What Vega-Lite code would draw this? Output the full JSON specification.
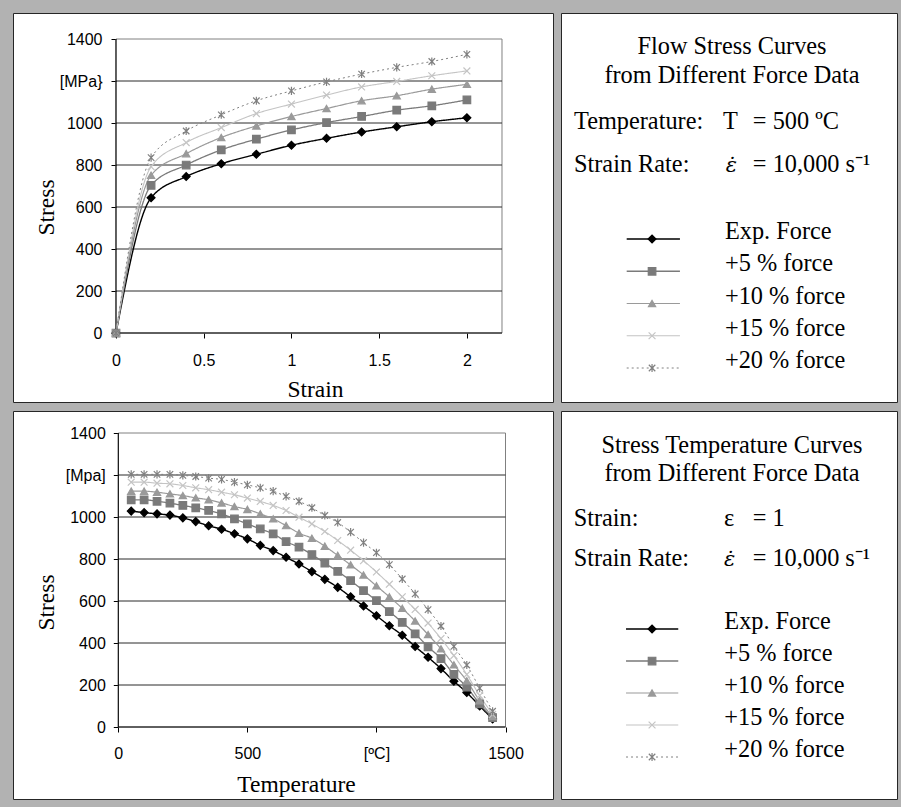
{
  "$schema": "https://vega.github.io/schema/vega-lite/v6.json",
  "background": "#b2b2b2",
  "padding": {"left": 12, "top": 12, "right": 4, "bottom": 8},
  "config": {"view": {"stroke": null}},
  "datasets": {
    "strain": [
      {"series":"Exp. Force","strain":0,"stress":0},{"series":"Exp. Force","strain":0.2,"stress":644},{"series":"Exp. Force","strain":0.4,"stress":745},{"series":"Exp. Force","strain":0.6,"stress":806},{"series":"Exp. Force","strain":0.8,"stress":851},{"series":"Exp. Force","strain":1.0,"stress":894},{"series":"Exp. Force","strain":1.2,"stress":927},{"series":"Exp. Force","strain":1.4,"stress":957},{"series":"Exp. Force","strain":1.6,"stress":982},{"series":"Exp. Force","strain":1.8,"stress":1006},{"series":"Exp. Force","strain":2.0,"stress":1025},
      {"series":"+5 % force","strain":0,"stress":0},{"series":"+5 % force","strain":0.2,"stress":703},{"series":"+5 % force","strain":0.4,"stress":800},{"series":"+5 % force","strain":0.6,"stress":872},{"series":"+5 % force","strain":0.8,"stress":923},{"series":"+5 % force","strain":1.0,"stress":967},{"series":"+5 % force","strain":1.2,"stress":1002},{"series":"+5 % force","strain":1.4,"stress":1031},{"series":"+5 % force","strain":1.6,"stress":1061},{"series":"+5 % force","strain":1.8,"stress":1082},{"series":"+5 % force","strain":2.0,"stress":1110},
      {"series":"+10 % force","strain":0,"stress":0},{"series":"+10 % force","strain":0.2,"stress":751},{"series":"+10 % force","strain":0.4,"stress":854},{"series":"+10 % force","strain":0.6,"stress":931},{"series":"+10 % force","strain":0.8,"stress":986},{"series":"+10 % force","strain":1.0,"stress":1031},{"series":"+10 % force","strain":1.2,"stress":1069},{"series":"+10 % force","strain":1.4,"stress":1106},{"series":"+10 % force","strain":1.6,"stress":1130},{"series":"+10 % force","strain":1.8,"stress":1161},{"series":"+10 % force","strain":2.0,"stress":1184},
      {"series":"+15 % force","strain":0,"stress":0},{"series":"+15 % force","strain":0.2,"stress":792},{"series":"+15 % force","strain":0.4,"stress":907},{"series":"+15 % force","strain":0.6,"stress":978},{"series":"+15 % force","strain":0.8,"stress":1045},{"series":"+15 % force","strain":1.0,"stress":1090},{"series":"+15 % force","strain":1.2,"stress":1133},{"series":"+15 % force","strain":1.4,"stress":1172},{"series":"+15 % force","strain":1.6,"stress":1198},{"series":"+15 % force","strain":1.8,"stress":1225},{"series":"+15 % force","strain":2.0,"stress":1248},
      {"series":"+20 % force","strain":0,"stress":0},{"series":"+20 % force","strain":0.2,"stress":835},{"series":"+20 % force","strain":0.4,"stress":962},{"series":"+20 % force","strain":0.6,"stress":1039},{"series":"+20 % force","strain":0.8,"stress":1106},{"series":"+20 % force","strain":1.0,"stress":1153},{"series":"+20 % force","strain":1.2,"stress":1196},{"series":"+20 % force","strain":1.4,"stress":1233},{"series":"+20 % force","strain":1.6,"stress":1265},{"series":"+20 % force","strain":1.8,"stress":1293},{"series":"+20 % force","strain":2.0,"stress":1327}
    ],
    "temp": [
      {"series":"Exp. Force","temperature":50,"stress":1028},{"series":"Exp. Force","temperature":100,"stress":1021},{"series":"Exp. Force","temperature":150,"stress":1015},{"series":"Exp. Force","temperature":200,"stress":1009},{"series":"Exp. Force","temperature":250,"stress":996},{"series":"Exp. Force","temperature":300,"stress":978},{"series":"Exp. Force","temperature":350,"stress":958},{"series":"Exp. Force","temperature":400,"stress":942},{"series":"Exp. Force","temperature":450,"stress":920},{"series":"Exp. Force","temperature":500,"stress":896},{"series":"Exp. Force","temperature":550,"stress":865},{"series":"Exp. Force","temperature":600,"stress":840},{"series":"Exp. Force","temperature":650,"stress":808},{"series":"Exp. Force","temperature":700,"stress":776},{"series":"Exp. Force","temperature":750,"stress":740},{"series":"Exp. Force","temperature":800,"stress":703},{"series":"Exp. Force","temperature":850,"stress":665},{"series":"Exp. Force","temperature":900,"stress":620},{"series":"Exp. Force","temperature":950,"stress":576},{"series":"Exp. Force","temperature":1000,"stress":530},{"series":"Exp. Force","temperature":1050,"stress":482},{"series":"Exp. Force","temperature":1100,"stress":437},{"series":"Exp. Force","temperature":1150,"stress":383},{"series":"Exp. Force","temperature":1200,"stress":332},{"series":"Exp. Force","temperature":1250,"stress":278},{"series":"Exp. Force","temperature":1300,"stress":218},{"series":"Exp. Force","temperature":1350,"stress":164},{"series":"Exp. Force","temperature":1400,"stress":100},{"series":"Exp. Force","temperature":1450,"stress":38},
      {"series":"+5 % force","temperature":50,"stress":1082},{"series":"+5 % force","temperature":100,"stress":1082},{"series":"+5 % force","temperature":150,"stress":1075},{"series":"+5 % force","temperature":200,"stress":1066},{"series":"+5 % force","temperature":250,"stress":1055},{"series":"+5 % force","temperature":300,"stress":1044},{"series":"+5 % force","temperature":350,"stress":1031},{"series":"+5 % force","temperature":400,"stress":1015},{"series":"+5 % force","temperature":450,"stress":991},{"series":"+5 % force","temperature":500,"stress":967},{"series":"+5 % force","temperature":550,"stress":943},{"series":"+5 % force","temperature":600,"stress":920},{"series":"+5 % force","temperature":650,"stress":883},{"series":"+5 % force","temperature":700,"stress":856},{"series":"+5 % force","temperature":750,"stress":821},{"series":"+5 % force","temperature":800,"stress":780},{"series":"+5 % force","temperature":850,"stress":741},{"series":"+5 % force","temperature":900,"stress":697},{"series":"+5 % force","temperature":950,"stress":649},{"series":"+5 % force","temperature":1000,"stress":602},{"series":"+5 % force","temperature":1050,"stress":550},{"series":"+5 % force","temperature":1100,"stress":498},{"series":"+5 % force","temperature":1150,"stress":444},{"series":"+5 % force","temperature":1200,"stress":382},{"series":"+5 % force","temperature":1250,"stress":326},{"series":"+5 % force","temperature":1300,"stress":251},{"series":"+5 % force","temperature":1350,"stress":190},{"series":"+5 % force","temperature":1400,"stress":110},{"series":"+5 % force","temperature":1450,"stress":45},
      {"series":"+10 % force","temperature":50,"stress":1123},{"series":"+10 % force","temperature":100,"stress":1123},{"series":"+10 % force","temperature":150,"stress":1118},{"series":"+10 % force","temperature":200,"stress":1110},{"series":"+10 % force","temperature":250,"stress":1102},{"series":"+10 % force","temperature":300,"stress":1091},{"series":"+10 % force","temperature":350,"stress":1082},{"series":"+10 % force","temperature":400,"stress":1067},{"series":"+10 % force","temperature":450,"stress":1050},{"series":"+10 % force","temperature":500,"stress":1036},{"series":"+10 % force","temperature":550,"stress":1015},{"series":"+10 % force","temperature":600,"stress":991},{"series":"+10 % force","temperature":650,"stress":959},{"series":"+10 % force","temperature":700,"stress":923},{"series":"+10 % force","temperature":750,"stress":899},{"series":"+10 % force","temperature":800,"stress":861},{"series":"+10 % force","temperature":850,"stress":817},{"series":"+10 % force","temperature":900,"stress":772},{"series":"+10 % force","temperature":950,"stress":724},{"series":"+10 % force","temperature":1000,"stress":672},{"series":"+10 % force","temperature":1050,"stress":620},{"series":"+10 % force","temperature":1100,"stress":565},{"series":"+10 % force","temperature":1150,"stress":505},{"series":"+10 % force","temperature":1200,"stress":440},{"series":"+10 % force","temperature":1250,"stress":372},{"series":"+10 % force","temperature":1300,"stress":296},{"series":"+10 % force","temperature":1350,"stress":220},{"series":"+10 % force","temperature":1400,"stress":125},{"series":"+10 % force","temperature":1450,"stress":50},
      {"series":"+15 % force","temperature":50,"stress":1166},{"series":"+15 % force","temperature":100,"stress":1166},{"series":"+15 % force","temperature":150,"stress":1161},{"series":"+15 % force","temperature":200,"stress":1158},{"series":"+15 % force","temperature":250,"stress":1150},{"series":"+15 % force","temperature":300,"stress":1139},{"series":"+15 % force","temperature":350,"stress":1130},{"series":"+15 % force","temperature":400,"stress":1118},{"series":"+15 % force","temperature":450,"stress":1106},{"series":"+15 % force","temperature":500,"stress":1090},{"series":"+15 % force","temperature":550,"stress":1074},{"series":"+15 % force","temperature":600,"stress":1055},{"series":"+15 % force","temperature":650,"stress":1031},{"series":"+15 % force","temperature":700,"stress":999},{"series":"+15 % force","temperature":750,"stress":967},{"series":"+15 % force","temperature":800,"stress":931},{"series":"+15 % force","temperature":850,"stress":888},{"series":"+15 % force","temperature":900,"stress":842},{"series":"+15 % force","temperature":950,"stress":792},{"series":"+15 % force","temperature":1000,"stress":738},{"series":"+15 % force","temperature":1050,"stress":680},{"series":"+15 % force","temperature":1100,"stress":620},{"series":"+15 % force","temperature":1150,"stress":560},{"series":"+15 % force","temperature":1200,"stress":495},{"series":"+15 % force","temperature":1250,"stress":421},{"series":"+15 % force","temperature":1300,"stress":340},{"series":"+15 % force","temperature":1350,"stress":250},{"series":"+15 % force","temperature":1400,"stress":150},{"series":"+15 % force","temperature":1450,"stress":60},
      {"series":"+20 % force","temperature":50,"stress":1203},{"series":"+20 % force","temperature":100,"stress":1203},{"series":"+20 % force","temperature":150,"stress":1203},{"series":"+20 % force","temperature":200,"stress":1203},{"series":"+20 % force","temperature":250,"stress":1198},{"series":"+20 % force","temperature":300,"stress":1193},{"series":"+20 % force","temperature":350,"stress":1185},{"series":"+20 % force","temperature":400,"stress":1179},{"series":"+20 % force","temperature":450,"stress":1166},{"series":"+20 % force","temperature":500,"stress":1153},{"series":"+20 % force","temperature":550,"stress":1139},{"series":"+20 % force","temperature":600,"stress":1123},{"series":"+20 % force","temperature":650,"stress":1098},{"series":"+20 % force","temperature":700,"stress":1075},{"series":"+20 % force","temperature":750,"stress":1044},{"series":"+20 % force","temperature":800,"stress":1007},{"series":"+20 % force","temperature":850,"stress":974},{"series":"+20 % force","temperature":900,"stress":928},{"series":"+20 % force","temperature":950,"stress":878},{"series":"+20 % force","temperature":1000,"stress":830},{"series":"+20 % force","temperature":1050,"stress":773},{"series":"+20 % force","temperature":1100,"stress":705},{"series":"+20 % force","temperature":1150,"stress":634},{"series":"+20 % force","temperature":1200,"stress":559},{"series":"+20 % force","temperature":1250,"stress":481},{"series":"+20 % force","temperature":1300,"stress":384},{"series":"+20 % force","temperature":1350,"stress":295},{"series":"+20 % force","temperature":1400,"stress":185},{"series":"+20 % force","temperature":1450,"stress":75}
    ],
    "series": [{"series":"Exp. Force"},{"series":"+5 % force"},{"series":"+10 % force"},{"series":"+15 % force"},{"series":"+20 % force"}],
    "grid": [{"stress":200},{"stress":400},{"stress":600},{"stress":800},{"stress":1000},{"stress":1200}]
  },
  "vconcat": [
    {
      "spacing": 6,
      "hconcat": [
        {
          "width": 540, "height": 389,
          "view": {"fill": "white", "stroke": "#262626", "strokeWidth": 1},
          "layer": [
            {"data": {"values": [{}]}, "mark": {"type": "rect", "filled": false, "stroke": "#808080", "strokeWidth": 1},
             "encoding": {
               "x": {"datum": 0, "type": "quantitative", "scale": {"domain": [-0.58706, 2.49074], "nice": false, "zero": false},
                     "axis": {"values": [0, 0.5, 1, 1.5, 2], "labelExpr": "'' + datum.value", "offset": -69, "domain": false, "title": "Strain", "titleFont": "Liberation Serif", "titleFontSize": 23.5, "titleFontWeight": "normal", "titleColor": "#000", "titleX": 302, "titleY": 63, "titleBaseline": "alphabetic", "titleAlign": "center", "labelFont": "Liberation Sans", "labelFontSize": 16, "labelColor": "#000", "labelPadding": 14, "tickSize": 5, "tickColor": "#000", "grid": false, "labelFlush": false, "labelOverlap": false}},
               "x2": {"datum": 2.2},
               "y": {"datum": 0, "type": "quantitative", "scale": {"domain": [-328.571, 1523.81], "nice": false, "zero": false},
                     "axis": {"values": [0, 200, 400, 600, 800, 1000, 1200, 1400], "labelExpr": "datum.value == 1200 ? '[MPa}' : '' + datum.value", "offset": -103, "domain": false, "title": "Stress", "titleFont": "Liberation Serif", "titleFontSize": 23.5, "titleFontWeight": "normal", "titleColor": "#000", "titleAngle": 270, "titleX": -62.5, "titleY": 194, "titleBaseline": "alphabetic", "titleAlign": "center", "labelFont": "Liberation Sans", "labelFontSize": 16, "labelColor": "#000", "labelPadding": 9, "tickSize": 5, "tickColor": "#000", "grid": false, "labelOverlap": false}},
               "y2": {"datum": 1400}}},
            {"data": {"name": "grid"}, "mark": {"type": "rule", "stroke": "#2b2b2b", "strokeWidth": 1},
             "encoding": {"x": {"datum": 0, "type": "quantitative"}, "x2": {"datum": 2.2},
                          "y": {"field": "stress", "type": "quantitative"}}},
            {"data": {"values": [{}]}, "mark": {"type": "rule", "stroke": "#000", "strokeWidth": 1},
             "encoding": {"x": {"datum": 0, "type": "quantitative"}, "x2": {"datum": 2.2},
                          "y": {"datum": 0, "type": "quantitative"}}},
            {"data": {"values": [{}]}, "mark": {"type": "rule", "stroke": "#000", "strokeWidth": 1},
             "encoding": {"x": {"datum": 0, "type": "quantitative"},
                          "y": {"datum": 0, "type": "quantitative"}, "y2": {"datum": 1400}}},
            {"data": {"name": "strain"}, "mark": {"type": "line", "interpolate": "monotone"},
             "encoding": {
               "x": {"field": "strain", "type": "quantitative"},
               "y": {"field": "stress", "type": "quantitative"},
               "color": {"field": "series", "type": "nominal", "scale": {"domain": ["Exp. Force", "+5 % force", "+10 % force", "+15 % force", "+20 % force"], "range": ["#000000", "#7a7a7a", "#9a9a9a", "#c4c4c4", "#808080"]}, "legend": null},
               "strokeDash": {"field": "series", "type": "nominal", "scale": {"domain": ["Exp. Force", "+5 % force", "+10 % force", "+15 % force", "+20 % force"], "range": [[1, 0], [1, 0], [1, 0], [1, 0], [2, 3]]}, "legend": null},
               "strokeWidth": {"field": "series", "type": "nominal", "scale": {"domain": ["Exp. Force", "+5 % force", "+10 % force", "+15 % force", "+20 % force"], "range": [1.4, 1, 1, 1, 1.3]}, "legend": null}
             }},
            {"data": {"name": "strain"}, "mark": {"type": "point", "filled": true, "strokeWidth": 1.2, "opacity": 1},
             "encoding": {
               "x": {"field": "strain", "type": "quantitative"},
               "y": {"field": "stress", "type": "quantitative"},
               "fill": {"field": "series", "type": "nominal", "scale": {"domain": ["Exp. Force", "+5 % force", "+10 % force", "+15 % force", "+20 % force"], "range": ["#000000", "#7a7a7a", "#9a9a9a", "#c4c4c4", "#808080"]}, "legend": null},
               "stroke": {"field": "series", "type": "nominal", "scale": {"domain": ["Exp. Force", "+5 % force", "+10 % force", "+15 % force", "+20 % force"], "range": ["#000000", "#7a7a7a", "#9a9a9a", "#c4c4c4", "#808080"]}, "legend": null},
               "shape": {"field": "series", "type": "nominal", "scale": {"domain": ["Exp. Force", "+5 % force", "+10 % force", "+15 % force", "+20 % force"], "range": ["diamond", "square", "triangle-up", "M-1,-1L1,1M-1,1L1,-1", "M-1,-1L1,1M-1,1L1,-1M0,-1.25L0,1.25"]}, "legend": null},
               "size": {"field": "series", "type": "nominal", "scale": {"domain": ["Exp. Force", "+5 % force", "+10 % force", "+15 % force", "+20 % force"], "range": [62, 42, 62, 62, 70]}, "legend": null}
             }}
          ]
        },
        {
          "width": 336, "height": 389,
          "view": {"fill": "white", "stroke": "#262626", "strokeWidth": 1},
          "resolve": {"scale": {"y": "independent"}},
          "layer": [
            {"data": {"values": [{"heading": "Flow Stress Curves"}, {"heading": "from Different Force Data"}]},
             "mark": {"type": "text", "font": "Liberation Serif", "fontSize": 24.3, "align": "center", "baseline": "alphabetic", "color": "#000"},
             "encoding": {"x": {"datum": 0.509, "type": "quantitative", "scale": {"domain": [0, 1], "nice": false, "zero": false}, "axis": null},
                          "y": {"field": "heading", "type": "nominal", "scale": {"type": "point", "domain": ["Flow Stress Curves", "from Different Force Data"], "range": [41.3, 69.7], "padding": 0}, "axis": null},
                          "text": {"field": "heading"}}},
            {"data": {"values": [{"label": "Temperature:", "symbol": "T", "value": "= 500 ºC"}, {"label": "Strain Rate:", "symbol": "ε̇", "value": "= 10,000 s⁻¹"}]},
             "layer": [
               {"mark": {"type": "text", "font": "Liberation Serif", "fontSize": 24.3, "align": "left", "baseline": "alphabetic", "color": "#000"},
                "encoding": {"x": {"datum": 0.0387, "type": "quantitative", "scale": {"domain": [0, 1], "nice": false, "zero": false}, "axis": null},
                             "y": {"field": "label", "type": "nominal", "scale": {"type": "point", "domain": ["Temperature:", "Strain Rate:"], "range": [115.7, 158.7], "padding": 0}, "axis": null},
                             "text": {"field": "label"}}},
               {"transform": [{"filter": "datum.label == 'Temperature:'"}],
                "mark": {"type": "text", "font": "Liberation Serif", "fontSize": 24.3, "align": "left", "baseline": "alphabetic", "color": "#000"},
                "encoding": {"x": {"datum": 0.482, "type": "quantitative", "scale": {"domain": [0, 1], "nice": false, "zero": false}, "axis": null},
                             "y": {"field": "label", "type": "nominal", "scale": {"type": "point", "domain": ["Temperature:", "Strain Rate:"], "range": [115.7, 158.7], "padding": 0}, "axis": null},
                             "text": {"field": "symbol"}}},
               {"transform": [{"filter": "datum.label == 'Strain Rate:'"}],
                "mark": {"type": "text", "font": "DejaVu Serif", "fontSize": 21, "fontStyle": "italic", "align": "left", "baseline": "alphabetic", "color": "#000"},
                "encoding": {"x": {"datum": 0.49, "type": "quantitative", "scale": {"domain": [0, 1], "nice": false, "zero": false}, "axis": null},
                             "y": {"field": "label", "type": "nominal", "scale": {"type": "point", "domain": ["Temperature:", "Strain Rate:"], "range": [115.7, 158.7], "padding": 0}, "axis": null},
                             "text": {"field": "symbol"}}},
               {"mark": {"type": "text", "font": "Liberation Serif", "fontSize": 24.3, "align": "left", "baseline": "alphabetic", "color": "#000"},
                "encoding": {"x": {"datum": 0.571, "type": "quantitative", "scale": {"domain": [0, 1], "nice": false, "zero": false}, "axis": null},
                             "y": {"field": "label", "type": "nominal", "scale": {"type": "point", "domain": ["Temperature:", "Strain Rate:"], "range": [115.7, 158.7], "padding": 0}, "axis": null},
                             "text": {"field": "value"}}}
             ]},
            {"data": {"name": "series"},
             "layer": [
               {"mark": {"type": "rule"},
                "encoding": {"x": {"datum": 0.1955, "type": "quantitative", "scale": {"domain": [0, 1], "nice": false, "zero": false}, "axis": null}, "x2": {"datum": 0.354},
                             "y": {"field": "series", "type": "nominal", "scale": {"type": "point", "domain": ["Exp. Force", "+5 % force", "+10 % force", "+15 % force", "+20 % force"], "range": [226, 355], "padding": 0}, "axis": null},
                             "color": {"field": "series", "type": "nominal", "scale": {"domain": ["Exp. Force", "+5 % force", "+10 % force", "+15 % force", "+20 % force"], "range": ["#000000", "#7a7a7a", "#9a9a9a", "#c4c4c4", "#808080"]}, "legend": null},
                             "strokeDash": {"field": "series", "type": "nominal", "scale": {"domain": ["Exp. Force", "+5 % force", "+10 % force", "+15 % force", "+20 % force"], "range": [[1, 0], [1, 0], [1, 0], [1, 0], [2, 3]]}, "legend": null},
                             "strokeWidth": {"field": "series", "type": "nominal", "scale": {"domain": ["Exp. Force", "+5 % force", "+10 % force", "+15 % force", "+20 % force"], "range": [1.6, 1.2, 1.2, 1.2, 1.3]}, "legend": null}}},
               {"mark": {"type": "point", "filled": true, "strokeWidth": 1.2, "opacity": 1},
                "encoding": {"x": {"datum": 0.271, "type": "quantitative", "scale": {"domain": [0, 1], "nice": false, "zero": false}, "axis": null},
                             "y": {"field": "series", "type": "nominal", "scale": {"type": "point", "domain": ["Exp. Force", "+5 % force", "+10 % force", "+15 % force", "+20 % force"], "range": [226, 355], "padding": 0}, "axis": null},
                             "fill": {"field": "series", "type": "nominal", "scale": {"domain": ["Exp. Force", "+5 % force", "+10 % force", "+15 % force", "+20 % force"], "range": ["#000000", "#7a7a7a", "#9a9a9a", "#c4c4c4", "#808080"]}, "legend": null},
                             "stroke": {"field": "series", "type": "nominal", "scale": {"domain": ["Exp. Force", "+5 % force", "+10 % force", "+15 % force", "+20 % force"], "range": ["#000000", "#7a7a7a", "#9a9a9a", "#c4c4c4", "#808080"]}, "legend": null},
                             "shape": {"field": "series", "type": "nominal", "scale": {"domain": ["Exp. Force", "+5 % force", "+10 % force", "+15 % force", "+20 % force"], "range": ["diamond", "square", "triangle-up", "M-1,-1L1,1M-1,1L1,-1", "M-1,-1L1,1M-1,1L1,-1M0,-1.25L0,1.25"]}, "legend": null},
                             "size": {"field": "series", "type": "nominal", "scale": {"domain": ["Exp. Force", "+5 % force", "+10 % force", "+15 % force", "+20 % force"], "range": [52, 38, 55, 56, 64]}, "legend": null}}},
               {"mark": {"type": "text", "font": "Liberation Serif", "fontSize": 24.3, "align": "left", "baseline": "alphabetic", "color": "#000"},
                "encoding": {"x": {"datum": 0.488, "type": "quantitative", "scale": {"domain": [0, 1], "nice": false, "zero": false}, "axis": null},
                             "y": {"field": "series", "type": "nominal", "scale": {"type": "point", "domain": ["Exp. Force", "+5 % force", "+10 % force", "+15 % force", "+20 % force"], "range": [227.3, 365.7], "padding": 0}, "axis": null},
                             "text": {"field": "series"}}}
             ]}
          ]
        }
      ]
    },
    {
      "spacing": 6,
      "hconcat": [
        {
          "width": 540, "height": 388,
          "view": {"fill": "white", "stroke": "#262626", "strokeWidth": 1},
          "layer": [
            {"data": {"values": [{}]}, "mark": {"type": "rect", "filled": false, "stroke": "#808080", "strokeWidth": 1},
             "encoding": {
               "x": {"datum": 0, "type": "quantitative", "scale": {"domain": [-407.93, 1684.0], "nice": false, "zero": false},
                     "axis": {"values": [0, 500, 1000, 1500], "labelExpr": "datum.value == 1000 ? '[ºC]' : '' + datum.value", "offset": -72, "domain": false, "title": "Temperature", "titleFont": "Liberation Serif", "titleFontSize": 23.5, "titleFontWeight": "normal", "titleColor": "#000", "titleX": 283, "titleY": 64.7, "titleBaseline": "alphabetic", "titleAlign": "center", "labelFont": "Liberation Sans", "labelFontSize": 16, "labelColor": "#000", "labelPadding": 13, "tickSize": 5, "tickColor": "#000", "grid": false, "labelFlush": false, "labelOverlap": false}},
               "x2": {"datum": 1500},
               "y": {"datum": 0, "type": "quantitative", "scale": {"domain": [-342.857, 1504.762], "nice": false, "zero": false},
                     "axis": {"values": [0, 200, 400, 600, 800, 1000, 1200, 1400], "labelExpr": "datum.value == 1200 ? '[Mpa]' : '' + datum.value", "offset": -105.3, "domain": false, "title": "Stress", "titleFont": "Liberation Serif", "titleFontSize": 23.5, "titleFontWeight": "normal", "titleColor": "#000", "titleAngle": 270, "titleX": -64.8, "titleY": 191, "titleBaseline": "alphabetic", "titleAlign": "center", "labelFont": "Liberation Sans", "labelFontSize": 16, "labelColor": "#000", "labelPadding": 8, "tickSize": 5, "tickColor": "#000", "grid": false, "labelOverlap": false}},
               "y2": {"datum": 1400}}},
            {"data": {"name": "grid"}, "mark": {"type": "rule", "stroke": "#2b2b2b", "strokeWidth": 1},
             "encoding": {"x": {"datum": 0, "type": "quantitative"}, "x2": {"datum": 1500},
                          "y": {"field": "stress", "type": "quantitative"}}},
            {"data": {"values": [{}]}, "mark": {"type": "rule", "stroke": "#000", "strokeWidth": 1},
             "encoding": {"x": {"datum": 0, "type": "quantitative"}, "x2": {"datum": 1500},
                          "y": {"datum": 0, "type": "quantitative"}}},
            {"data": {"values": [{}]}, "mark": {"type": "rule", "stroke": "#000", "strokeWidth": 1},
             "encoding": {"x": {"datum": 0, "type": "quantitative"},
                          "y": {"datum": 0, "type": "quantitative"}, "y2": {"datum": 1400}}},
            {"data": {"name": "temp"}, "mark": {"type": "line", "interpolate": "monotone"},
             "encoding": {
               "x": {"field": "temperature", "type": "quantitative"},
               "y": {"field": "stress", "type": "quantitative"},
               "color": {"field": "series", "type": "nominal", "scale": {"domain": ["Exp. Force", "+5 % force", "+10 % force", "+15 % force", "+20 % force"], "range": ["#000000", "#7a7a7a", "#9a9a9a", "#c4c4c4", "#808080"]}, "legend": null},
               "strokeDash": {"field": "series", "type": "nominal", "scale": {"domain": ["Exp. Force", "+5 % force", "+10 % force", "+15 % force", "+20 % force"], "range": [[1, 0], [1, 0], [1, 0], [1, 0], [2, 3]]}, "legend": null},
               "strokeWidth": {"field": "series", "type": "nominal", "scale": {"domain": ["Exp. Force", "+5 % force", "+10 % force", "+15 % force", "+20 % force"], "range": [1.4, 1, 1, 1, 1.3]}, "legend": null}
             }},
            {"data": {"name": "temp"}, "mark": {"type": "point", "filled": true, "strokeWidth": 1.2, "opacity": 1},
             "encoding": {
               "x": {"field": "temperature", "type": "quantitative"},
               "y": {"field": "stress", "type": "quantitative"},
               "fill": {"field": "series", "type": "nominal", "scale": {"domain": ["Exp. Force", "+5 % force", "+10 % force", "+15 % force", "+20 % force"], "range": ["#000000", "#7a7a7a", "#9a9a9a", "#c4c4c4", "#808080"]}, "legend": null},
               "stroke": {"field": "series", "type": "nominal", "scale": {"domain": ["Exp. Force", "+5 % force", "+10 % force", "+15 % force", "+20 % force"], "range": ["#000000", "#7a7a7a", "#9a9a9a", "#c4c4c4", "#808080"]}, "legend": null},
               "shape": {"field": "series", "type": "nominal", "scale": {"domain": ["Exp. Force", "+5 % force", "+10 % force", "+15 % force", "+20 % force"], "range": ["diamond", "square", "triangle-up", "M-1,-1L1,1M-1,1L1,-1", "M-1,-1L1,1M-1,1L1,-1M0,-1.25L0,1.25"]}, "legend": null},
               "size": {"field": "series", "type": "nominal", "scale": {"domain": ["Exp. Force", "+5 % force", "+10 % force", "+15 % force", "+20 % force"], "range": [62, 42, 62, 62, 70]}, "legend": null}
             }}
          ]
        },
        {
          "width": 336, "height": 388,
          "view": {"fill": "white", "stroke": "#262626", "strokeWidth": 1},
          "resolve": {"scale": {"y": "independent"}},
          "layer": [
            {"data": {"values": [{"heading": "Stress Temperature Curves"}, {"heading": "from Different Force Data"}]},
             "mark": {"type": "text", "font": "Liberation Serif", "fontSize": 24.3, "align": "center", "baseline": "alphabetic", "color": "#000"},
             "encoding": {"x": {"datum": 0.509, "type": "quantitative", "scale": {"domain": [0, 1], "nice": false, "zero": false}, "axis": null},
                          "y": {"field": "heading", "type": "nominal", "scale": {"type": "point", "domain": ["Stress Temperature Curves", "from Different Force Data"], "range": [41.7, 70], "padding": 0}, "axis": null},
                          "text": {"field": "heading"}}},
            {"data": {"values": [{"label": "Strain:", "symbol": "ε", "value": "= 1"}, {"label": "Strain Rate:", "symbol": "ε̇", "value": "= 10,000 s⁻¹"}]},
             "layer": [
               {"mark": {"type": "text", "font": "Liberation Serif", "fontSize": 24.3, "align": "left", "baseline": "alphabetic", "color": "#000"},
                "encoding": {"x": {"datum": 0.0378, "type": "quantitative", "scale": {"domain": [0, 1], "nice": false, "zero": false}, "axis": null},
                             "y": {"field": "label", "type": "nominal", "scale": {"type": "point", "domain": ["Strain:", "Strain Rate:"], "range": [115, 155], "padding": 0}, "axis": null},
                             "text": {"field": "label"}}},
               {"transform": [{"filter": "datum.label == 'Strain:'"}],
                "mark": {"type": "text", "font": "Liberation Serif", "fontSize": 24.3, "align": "left", "baseline": "alphabetic", "color": "#000"},
                "encoding": {"x": {"datum": 0.485, "type": "quantitative", "scale": {"domain": [0, 1], "nice": false, "zero": false}, "axis": null},
                             "y": {"field": "label", "type": "nominal", "scale": {"type": "point", "domain": ["Strain:", "Strain Rate:"], "range": [115, 155], "padding": 0}, "axis": null},
                             "text": {"field": "symbol"}}},
               {"transform": [{"filter": "datum.label == 'Strain Rate:'"}],
                "mark": {"type": "text", "font": "DejaVu Serif", "fontSize": 21, "fontStyle": "italic", "align": "left", "baseline": "alphabetic", "color": "#000"},
                "encoding": {"x": {"datum": 0.485, "type": "quantitative", "scale": {"domain": [0, 1], "nice": false, "zero": false}, "axis": null},
                             "y": {"field": "label", "type": "nominal", "scale": {"type": "point", "domain": ["Strain:", "Strain Rate:"], "range": [115, 155], "padding": 0}, "axis": null},
                             "text": {"field": "symbol"}}},
               {"mark": {"type": "text", "font": "Liberation Serif", "fontSize": 24.3, "align": "left", "baseline": "alphabetic", "color": "#000"},
                "encoding": {"x": {"datum": 0.5705, "type": "quantitative", "scale": {"domain": [0, 1], "nice": false, "zero": false}, "axis": null},
                             "y": {"field": "label", "type": "nominal", "scale": {"type": "point", "domain": ["Strain:", "Strain Rate:"], "range": [115, 155], "padding": 0}, "axis": null},
                             "text": {"field": "value"}}}
             ]},
            {"data": {"name": "series"},
             "layer": [
               {"mark": {"type": "rule"},
                "encoding": {"x": {"datum": 0.1935, "type": "quantitative", "scale": {"domain": [0, 1], "nice": false, "zero": false}, "axis": null}, "x2": {"datum": 0.349},
                             "y": {"field": "series", "type": "nominal", "scale": {"type": "point", "domain": ["Exp. Force", "+5 % force", "+10 % force", "+15 % force", "+20 % force"], "range": [218, 346], "padding": 0}, "axis": null},
                             "color": {"field": "series", "type": "nominal", "scale": {"domain": ["Exp. Force", "+5 % force", "+10 % force", "+15 % force", "+20 % force"], "range": ["#000000", "#7a7a7a", "#9a9a9a", "#c4c4c4", "#808080"]}, "legend": null},
                             "strokeDash": {"field": "series", "type": "nominal", "scale": {"domain": ["Exp. Force", "+5 % force", "+10 % force", "+15 % force", "+20 % force"], "range": [[1, 0], [1, 0], [1, 0], [1, 0], [2, 3]]}, "legend": null},
                             "strokeWidth": {"field": "series", "type": "nominal", "scale": {"domain": ["Exp. Force", "+5 % force", "+10 % force", "+15 % force", "+20 % force"], "range": [1.6, 1.2, 1.2, 1.2, 1.3]}, "legend": null}}},
               {"mark": {"type": "point", "filled": true, "strokeWidth": 1.2, "opacity": 1},
                "encoding": {"x": {"datum": 0.271, "type": "quantitative", "scale": {"domain": [0, 1], "nice": false, "zero": false}, "axis": null},
                             "y": {"field": "series", "type": "nominal", "scale": {"type": "point", "domain": ["Exp. Force", "+5 % force", "+10 % force", "+15 % force", "+20 % force"], "range": [218, 346], "padding": 0}, "axis": null},
                             "fill": {"field": "series", "type": "nominal", "scale": {"domain": ["Exp. Force", "+5 % force", "+10 % force", "+15 % force", "+20 % force"], "range": ["#000000", "#7a7a7a", "#9a9a9a", "#c4c4c4", "#808080"]}, "legend": null},
                             "stroke": {"field": "series", "type": "nominal", "scale": {"domain": ["Exp. Force", "+5 % force", "+10 % force", "+15 % force", "+20 % force"], "range": ["#000000", "#7a7a7a", "#9a9a9a", "#c4c4c4", "#808080"]}, "legend": null},
                             "shape": {"field": "series", "type": "nominal", "scale": {"domain": ["Exp. Force", "+5 % force", "+10 % force", "+15 % force", "+20 % force"], "range": ["diamond", "square", "triangle-up", "M-1,-1L1,1M-1,1L1,-1", "M-1,-1L1,1M-1,1L1,-1M0,-1.25L0,1.25"]}, "legend": null},
                             "size": {"field": "series", "type": "nominal", "scale": {"domain": ["Exp. Force", "+5 % force", "+10 % force", "+15 % force", "+20 % force"], "range": [52, 38, 55, 56, 64]}, "legend": null}}},
               {"mark": {"type": "text", "font": "Liberation Serif", "fontSize": 24.3, "align": "left", "baseline": "alphabetic", "color": "#000"},
                "encoding": {"x": {"datum": 0.486, "type": "quantitative", "scale": {"domain": [0, 1], "nice": false, "zero": false}, "axis": null},
                             "y": {"field": "series", "type": "nominal", "scale": {"type": "point", "domain": ["Exp. Force", "+5 % force", "+10 % force", "+15 % force", "+20 % force"], "range": [220, 358], "padding": 0}, "axis": null},
                             "text": {"field": "series"}}}
             ]}
          ]
        }
      ]
    }
  ],
  "spacing": 7
}
